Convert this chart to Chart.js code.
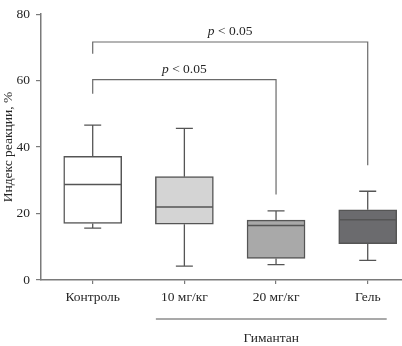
<!DOCTYPE html>
<html>
<head>
<meta charset="utf-8">
<script src="https://cdn.jsdelivr.net/npm/chart.js@4.4.1/dist/chart.umd.min.js"></script>
<style>
  html, body { margin: 0; padding: 0; background: #fff; }
  #wrap { width: 402px; height: 346px; }
</style>
</head>
<body>
<div id="wrap"><canvas id="boxChart" width="402" height="346"></canvas></div>
<script>
// Groups and box statistics
const categories = ["Контроль", "10 мг/кг", "20 мг/кг", "Гель"];
const whiskerMin = [15.6, 4.2, 4.6, 5.9];
const quartile1  = [17.0, 16.8, 6.5, 10.9];
const medians    = [28.7, 22.0, 16.4, 18.1];
const quartile3  = [37.2, 31.1, 18.0, 21.1];
const whiskerMax = [46.6, 45.6, 20.8, 26.7];
const boxColors  = ["#ffffff", "#d4d4d4", "#a9a9a9", "#6b6b6e"];

// Significance brackets
const bracketFrom   = [0, 0];
const bracketTo     = [2, 3];
const bracketTop    = [60.3, 71.6];
const bracketLeftY  = [56.0, 68.1];
const bracketRightY = [25.7, 34.5];
const bracketLabels = ["< 0.05", "< 0.05"];

const groupLabel = "Гимантан";
const yTicks = [0, 20, 40, 60, 80];

const FONT = "'Liberation Serif', 'DejaVu Serif', serif";
const FSIZE = 13.5;
const TEXT = "#262626";
const LINE = "#555555";
const AXIS = "#7a7a7a";

// Draws whiskers, medians, brackets and the group line using chart scales
const boxExtras = {
    id: "boxExtras",
    afterDatasetsDraw(chart) {
        const ctx = chart.ctx;
        const x = chart.scales.x;
        const y = chart.scales.y;
        const half = 28.5;
        const cap = 8.5;

        ctx.save();
        ctx.strokeStyle = LINE;
        ctx.lineWidth = 1.3;
        categories.forEach((c, i) => {
            const px = x.getPixelForValue(i);
            // whiskers
            ctx.beginPath();
            ctx.moveTo(px, y.getPixelForValue(quartile3[i]));
            ctx.lineTo(px, y.getPixelForValue(whiskerMax[i]));
            ctx.moveTo(px - cap, y.getPixelForValue(whiskerMax[i]));
            ctx.lineTo(px + cap, y.getPixelForValue(whiskerMax[i]));
            ctx.moveTo(px, y.getPixelForValue(quartile1[i]));
            ctx.lineTo(px, y.getPixelForValue(whiskerMin[i]));
            ctx.moveTo(px - cap, y.getPixelForValue(whiskerMin[i]));
            ctx.lineTo(px + cap, y.getPixelForValue(whiskerMin[i]));
            ctx.stroke();
            // median
            ctx.beginPath();
            ctx.lineWidth = 1.5;
            ctx.moveTo(px - half, y.getPixelForValue(medians[i]));
            ctx.lineTo(px + half, y.getPixelForValue(medians[i]));
            ctx.stroke();
            ctx.lineWidth = 1.3;
        });

        // brackets
        ctx.strokeStyle = "#6a6a6a";
        ctx.lineWidth = 1.2;
        bracketFrom.forEach((f, i) => {
            const x1 = x.getPixelForValue(f);
            const x2 = x.getPixelForValue(bracketTo[i]);
            const yt = y.getPixelForValue(bracketTop[i]);
            ctx.beginPath();
            ctx.moveTo(x1, y.getPixelForValue(bracketLeftY[i]));
            ctx.lineTo(x1, yt);
            ctx.lineTo(x2, yt);
            ctx.lineTo(x2, y.getPixelForValue(bracketRightY[i]));
            ctx.stroke();

            // "p < 0.05" with italic p
            ctx.fillStyle = TEXT;
            ctx.textBaseline = "alphabetic";
            const italic = "italic " + FSIZE + "px " + FONT;
            const normal = FSIZE + "px " + FONT;
            ctx.font = italic;
            const wp = ctx.measureText("p ").width;
            ctx.font = normal;
            const wr = ctx.measureText(bracketLabels[i]).width;
            let tx = (x1 + x2) / 2 - (wp + wr) / 2;
            ctx.font = italic;
            ctx.textAlign = "left";
            ctx.fillText("p ", tx, yt - 7);
            ctx.font = normal;
            ctx.fillText(bracketLabels[i], tx + wp, yt - 7);
        });

        // group line under the treated groups
        const gx1 = x.getPixelForValue(1) - half;
        const gx2 = x.getPixelForValue(3) + 19;
        const gy = x.bottom - 27;
        ctx.strokeStyle = "#555";
        ctx.lineWidth = 1.2;
        ctx.beginPath();
        ctx.moveTo(gx1, gy);
        ctx.lineTo(gx2, gy);
        ctx.stroke();
        ctx.fillStyle = TEXT;
        ctx.font = FSIZE + "px " + FONT;
        ctx.textAlign = "center";
        ctx.textBaseline = "middle";
        ctx.fillText(groupLabel, (gx1 + gx2) / 2, gy + 19);
        ctx.restore();
    }
};

new Chart(document.getElementById("boxChart"), {
    type: "bar",
    data: {
        datasets: [{
            data: categories.map((c, i) => ({ x: i, y: [quartile1[i], quartile3[i]] })),
            backgroundColor: boxColors,
            borderColor: LINE,
            borderWidth: 1.5,
            borderSkipped: false,
            barThickness: 58
        }]
    },
    options: {
        responsive: false,
        animation: false,
        layout: { padding: { top: 7, right: 0, left: 0, bottom: 0 } },
        plugins: {
            legend: { display: false },
            tooltip: { enabled: false }
        },
        scales: {
            x: {
                type: "linear",
                offset: false,
                min: -0.564,
                max: 3.374,
                afterBuildTicks: (scale) => { scale.ticks = categories.map((c, i) => ({ value: i })); },
                afterFit: (scale) => { scale.height = 66; },
                border: { display: true, color: AXIS, width: 1.5 },
                grid: { display: true, offset: false, drawOnChartArea: false, drawTicks: true, tickLength: 4, color: AXIS, lineWidth: 1.2 },
                ticks: {
                    padding: 5,
                    maxRotation: 0,
                    autoSkip: false,
                    color: TEXT,
                    font: { family: FONT, size: FSIZE },
                    callback: (v) => categories[v]
                }
            },
            y: {
                min: 0,
                max: 80,
                afterBuildTicks: (scale) => { scale.ticks = yTicks.map(v => ({ value: v })); },
                afterFit: (scale) => { scale.width = 41; },
                border: { display: true, color: AXIS, width: 1.5 },
                grid: { display: true, drawOnChartArea: false, drawTicks: true, tickLength: 5, color: AXIS, lineWidth: 1.2 },
                title: {
                    display: true,
                    text: "Индекс реакции, %",
                    color: TEXT,
                    font: { family: FONT, size: FSIZE },
                    padding: { top: 0, bottom: 0 }
                },
                ticks: {
                    padding: 6,
                    color: TEXT,
                    font: { family: FONT, size: FSIZE }
                }
            }
        }
    },
    plugins: [boxExtras]
});
</script>
</body>
</html>
